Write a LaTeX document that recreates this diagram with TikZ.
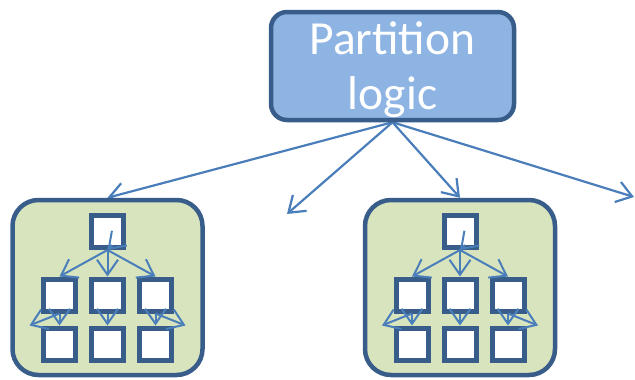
\documentclass[tikz,border=0pt]{standalone}
\usepackage{fontspec}
\setmainfont{Carlito}
\usetikzlibrary{arrows.meta,backgrounds}
\definecolor{logicblue}{HTML}{8EB4E3}
\definecolor{edgeblue}{HTML}{385D8A}
\definecolor{flowblue}{HTML}{4A7EBB}
\definecolor{partgreen}{HTML}{D7E4BD}

\begin{document}
\begin{tikzpicture}[
  x=1pt, y=-1pt,
  logic/.style={draw=edgeblue, fill=logicblue, line width=4.5pt, rounded corners=16pt, minimum width=243pt, minimum height=108pt, align=center, text=white, text depth=0pt, font=\fontsize{47.5}{55}\selectfont},
  part/.style={draw=edgeblue, fill=partgreen, line width=4.5pt, rounded corners=26pt, minimum width=190pt, minimum height=175pt},
  leaf/.style={draw=edgeblue, fill=white, line width=5pt, minimum size=32pt, inner sep=0pt},
  flow/.style={-{Straight Barb[length=15pt,width=21pt]}, line width=2.2pt, draw=flowblue},
  tree/.style={flow, line width=2pt}
]
\useasboundingbox (0,0) rectangle (635,380);

\node[logic] (logic) at (392.5,66) {Partition\\logic};
\node[part] (p1) at (107.5,287.5) {};
\node[part] (p3) at (460,287.5) {};
\coordinate (p2) at (287,214);
\coordinate (p4) at (634,197);

% partition logic fans out to every partition
\begin{scope}[on background layer]
\foreach \p in {p1.north,p2,p3.north,p4}
  \draw[flow] (logic.south) -- (\p);
\end{scope}

% small tree inside each partition
\foreach \p in {p1,p3} {
  \node[leaf] (\p t) at ([shift={(0,-56)}]\p.center) {};
  \foreach \i/\dx in {1/-48,2/0,3/48} {
    \node[leaf] (\p m\i) at ([shift={(\dx,7.5)}]\p.center) {};
    \node[leaf] (\p b\i) at ([shift={(\dx,56.5)}]\p.center) {};
    \draw[tree] (\p t.south) -- (\p m\i.north);
    \draw[tree] (\p m\i.south) -- (\p b\i.north);
  }
  \draw[tree] ([shift={(5,-5)}]\p t.south) -- (\p t.south);
  \draw[tree] (\p m1.south) -- ([xshift=-30pt]\p b1.north);
  \draw[tree] (\p m3.south) -- ([xshift=30pt]\p b3.north);
}
\end{tikzpicture}
\end{document}
